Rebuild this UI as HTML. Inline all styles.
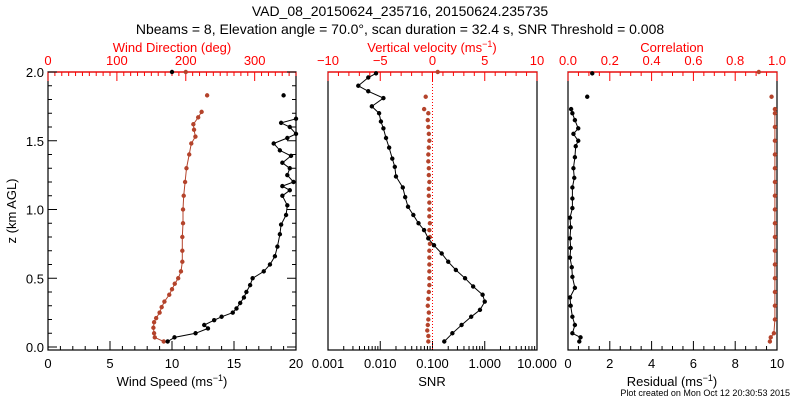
<!DOCTYPE html>
<html><head><meta charset="utf-8"><style>
html,body{margin:0;padding:0;background:#fff}
svg{display:block;font-family:"Liberation Sans",sans-serif}
</style></head><body>
<svg id="c" width="800" height="400" viewBox="0 0 800 400">
<text x="400" y="16" text-anchor="middle" font-size="14">VAD_08_20150624_235716, 20150624.235735</text>
<text x="400" y="34" text-anchor="middle" font-size="14">Nbeams = 8, Elevation angle = 70.0°, scan duration = 32.4 s, SNR Threshold = 0.008</text>
<text transform="translate(16,211) rotate(-90)" text-anchor="middle" font-size="13">z (km AGL)</text>
<text x="172" y="52" text-anchor="middle" font-size="13" fill="#f00">Wind Direction (deg)</text>
<text x="432" y="52" text-anchor="middle" font-size="13" fill="#f00">Vertical velocity (ms<tspan font-size="9" dy="-5">−1</tspan><tspan dy="5">)</tspan></text>
<text x="672" y="52" text-anchor="middle" font-size="13" fill="#f00">Correlation</text>
<text x="172" y="386" text-anchor="middle" font-size="13">Wind Speed (ms<tspan font-size="9" dy="-5">−1</tspan><tspan dy="5">)</tspan></text>
<text x="432" y="386" text-anchor="middle" font-size="13">SNR</text>
<text x="672" y="386" text-anchor="middle" font-size="13">Residual (ms<tspan font-size="9" dy="-5">−1</tspan><tspan dy="5">)</tspan></text>
<text x="790" y="396" text-anchor="end" font-size="9">Plot created on Mon Oct 12 20:30:53 2015</text>
</svg>
<script>
const speedH=[0.04,0.07,0.10,0.135,0.16,0.195,0.22,0.25,0.28,0.32,0.36,0.40,0.45,0.50,0.55,0.60,0.66,0.73,0.82,0.89,0.96,1.03,1.10,1.14,1.17,1.20,1.25,1.30,1.34,1.39,1.43,1.48,1.52,1.55,1.60,1.63,1.66];
const speedV=[9.65,10.2,11.9,12.9,12.6,13.4,14.0,14.9,15.2,15.5,15.8,16.0,16.3,16.5,17.4,17.9,18.3,18.5,18.7,18.8,19.2,19.3,18.9,19.5,18.9,19.8,19.3,19.5,18.9,19.6,18.7,18.2,19.3,20.2,19.5,18.8,20.3];
const speedIsoH=[1.83,2.0];
const speedIsoV=[19.0,10.0];
const dirH=[0.04,0.07,0.10,0.14,0.18,0.21,0.25,0.29,0.33,0.38,0.42,0.46,0.50,0.55,0.62,0.70,0.80,0.90,1.00,1.10,1.20,1.30,1.40,1.48,1.53,1.58,1.62,1.67,1.71];
const dirV=[168,155,154,153,154,157,162,165,169,176,180,184,189,193,195,195,195,196,196,197,199,201,205,208,214,212,211,218,223];
const dirIsoH=[1.83,2.0];
const dirIsoV=[231,200];
const snrH=[0.04,0.10,0.16,0.22,0.27,0.33,0.38,0.44,0.50,0.56,0.62,0.68,0.74,0.79,0.85,0.90,0.96,1.02,1.09,1.16,1.24,1.31,1.37,1.45,1.52,1.59,1.64,1.70,1.75,1.81,1.86,1.90,1.96,1.99];
const snrV=[0.168,0.24,0.36,0.55,0.81,1.0,0.91,0.6,0.42,0.28,0.2,0.15,0.107,0.083,0.069,0.054,0.043,0.034,0.030,0.027,0.020,0.019,0.017,0.0148,0.0129,0.0115,0.0103,0.0095,0.0069,0.0115,0.0059,0.0038,0.0059,0.0083];
const vvH=[0.04,0.08,0.12,0.16,0.20,0.25,0.30,0.35,0.40,0.45,0.50,0.55,0.60,0.65,0.70,0.75,0.80,0.85,0.90,0.95,1.00,1.05,1.10,1.15,1.20,1.25,1.30,1.35,1.40,1.45,1.50,1.55,1.60,1.65,1.70,1.73,1.82,2.0];
const vvV=[-0.4,-0.4,-0.5,-0.45,-0.4,-0.35,-0.45,-0.4,-0.35,-0.3,-0.3,-0.3,-0.3,-0.3,-0.3,-0.25,-0.25,-0.3,-0.25,-0.3,-0.3,-0.3,-0.35,-0.35,-0.3,-0.35,-0.35,-0.4,-0.4,-0.35,-0.3,-0.35,-0.4,-0.45,-0.4,-0.8,-0.65,0.5];
const resH=[0.04,0.07,0.10,0.16,0.22,0.30,0.36,0.43,0.51,0.58,0.65,0.72,0.79,0.87,0.94,1.01,1.08,1.16,1.23,1.30,1.38,1.46,1.50,1.55,1.59,1.65,1.70,1.73];
const resV=[0.54,0.6,0.21,0.33,0.21,0.128,0.096,0.33,0.21,0.18,0.096,0.128,0.096,0.128,0.096,0.21,0.21,0.21,0.30,0.26,0.33,0.37,0.49,0.26,0.49,0.33,0.21,0.15];
const resIsoH=[1.82,1.99];
const resIsoV=[0.92,1.16];
const corrH=[0.04,0.07,0.10,0.20,0.30,0.40,0.50,0.60,0.70,0.80,0.90,1.00,1.10,1.20,1.30,1.40,1.50,1.60,1.70,1.73];
const corrV=[0.966,0.97,0.985,0.99,0.99,0.99,0.99,0.99,0.99,0.99,0.99,0.99,0.99,0.99,0.99,0.99,0.99,0.99,0.99,0.99];
const corrIsoH=[1.82,2.0];
const corrIsoV=[0.974,0.913];

const NS='http://www.w3.org/2000/svg';
const svg=document.getElementById('c');
const RED='#b4432b';
const TOP=72,BOT=350;
const yH=h=>347-h*137.5;
function el(t,a){const e=document.createElementNS(NS,t);for(const k in a)e.setAttribute(k,a[k]);svg.appendChild(e);return e;}
function lin(d0,d1,p0,p1){return v=>p0+(v-d0)/(d1-d0)*(p1-p0);}
function logS(d0,d1,p0,p1){return v=>p0+(Math.log10(v)-Math.log10(d0))/(Math.log10(d1)-Math.log10(d0))*(p1-p0);}
function tick(x1,y1,x2,y2,c,name){const e=el('line',{x1,y1,x2,y2,stroke:c,'stroke-width':1});

}
function label(x,y,s,c,name){const e=el('text',{x,y,'text-anchor':'middle','font-size':13,fill:c});e.textContent=s;

}
function frame(L,R,name){const e=el('rect',{x:L,y:TOP,width:R-L,height:BOT-TOP,fill:'none',stroke:'#000','stroke-width':1.2});


const t=el('line',{x1:L,y1:TOP,x2:R,y2:TOP,stroke:'#f00','stroke-width':1.2});

}
function linTicks(sc,d0,d1,minor,major,y,dir,c,fmt,name,lblY){
 const n=Math.round((d1-d0)/minor);
 for(let i=0;i<=n;i++){const v=d0+i*minor;const isMaj=Math.abs(v/major-Math.round(v/major))<1e-6;const x=sc(v);
  tick(x,y,x,y+dir*(isMaj?9:4),c,name+'-tick');
  if(isMaj&&lblY)label(x,lblY,fmt(v),c,name+'-label');}
}
// dots(values, heights, xScale, ...)
function dots(vals,hs,sx,col,r,name,line){
 if(line){const pts=vals.map((v,i)=>sx(v).toFixed(1)+','+yH(hs[i]).toFixed(1)).join(' ');
  const p=el('polyline',{points:pts,fill:'none',stroke:col,'stroke-width':1});
  
  }
 vals.forEach((v,i)=>{const x=sx(v);
  const c=el('circle',{cx:x,cy:yH(hs[i]),r,fill:col});
  
  });
}
// panel 1
const P1L=48,P1R=296;
frame(P1L,P1R,'wind-panel');
const sSpd=lin(0,20,P1L,P1R),sDir=lin(0,360,P1L,P1R);
linTicks(sSpd,0,20,1,5,BOT,-1,'#000',v=>String(v),'wind-speed-axis',368);
linTicks(sDir,0,360,10,100,TOP,1,'#f00',v=>String(v),'wind-direction-axis',65);
for(let i=0;i<=20;i++){const h=i*0.1,y=yH(h),maj=i%5==0;
 tick(P1L,y,P1L+(maj?9:4),y,'#000','z-axis-tick');tick(P1R,y,P1R-(maj?9:4),y,'#000','z-axis-tick');
 if(maj){const t=el('text',{x:P1L-4,y:y+5,'text-anchor':'end','font-size':13});t.textContent=h.toFixed(1);
 
 }}
dots(dirV,dirH,sDir,RED,2.2,'wind-direction',true);
dots(dirIsoV,dirIsoH,sDir,RED,2.2,'wind-direction-isolated',false);
dots(speedV,speedH,v=>Math.min(sSpd(v),P1R),'#000',2.2,'wind-speed',true);
dots(speedIsoV,speedIsoH,sSpd,'#000',2.2,'wind-speed-isolated',false);
// panel 2
const P2L=328,P2R=537;
frame(P2L,P2R,'snr-vv-panel');
const sVV=lin(-10,10,P2L,P2R),sSNR=logS(0.001,10,P2L,P2R);
linTicks(sVV,-10,10,1,5,TOP,1,'#f00',v=>v<0?'−'+(-v):String(v),'vertical-velocity-axis',65);
const snrTicks=['0.001','0.010','0.100','1.000','10.000'];
for(let d=-3;d<=1;d++){const x=sSNR(Math.pow(10,d));tick(x,BOT,x,BOT-9,'#000','snr-major-tick');
 label(x,368,snrTicks[d+3],'#000','snr-axis-label');
 if(d<1)for(let m=2;m<=9;m++){const xm=sSNR(m*Math.pow(10,d));tick(xm,BOT,xm,BOT-4,'#000','snr-minor-tick');}}
const z=el('line',{x1:sVV(0),y1:TOP,x2:sVV(0),y2:BOT,stroke:'#f00','stroke-dasharray':'1,2'});


dots(vvV,vvH,sVV,RED,2.2,'vertical-velocity',false);
dots(snrV,snrH,sSNR,'#000',2.2,'snr',true);
// panel 3
const P3L=568,P3R=777;
frame(P3L,P3R,'residual-panel');
const sRes=lin(0,10,P3L,P3R),sCor=lin(0,1,P3L,P3R);
linTicks(sRes,0,10,0.5,2,BOT,-1,'#000',v=>String(v),'residual-axis',368);
linTicks(sCor,0,1,0.05,0.2,TOP,1,'#f00',v=>v.toFixed(1),'correlation-axis',65);
dots(corrV,corrH,sCor,RED,2.2,'correlation',true);
dots(corrIsoV,corrIsoH,sCor,RED,2.2,'correlation-isolated',false);
dots(resV,resH,sRes,'#000',2.2,'residual',true);
dots(resIsoV,resIsoH,sRes,'#000',2.2,'residual-isolated',false);
</script>
</body></html>
